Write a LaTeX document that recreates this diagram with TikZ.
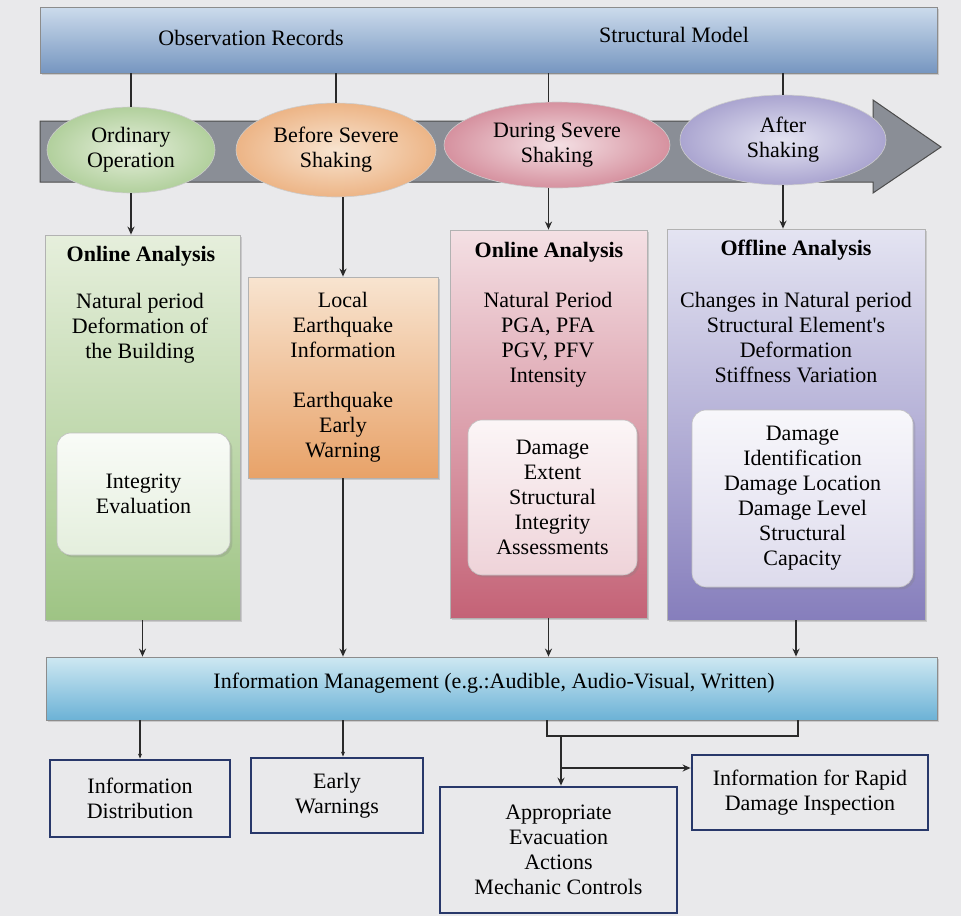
\documentclass[tikz,border=0pt]{standalone}
\usepackage{fontspec}
\setmainfont{Liberation Serif}
\newfontfamily\diagfont{Liberation Serif}
\usetikzlibrary{arrows.meta,shadows,shapes.geometric}

\definecolor{colback}{RGB}{233,233,235}
\definecolor{colbar1}{RGB}{204,219,236}
\definecolor{colbar2}{RGB}{118,150,192}
\definecolor{colinfo1}{RGB}{206,232,242}
\definecolor{colinfo2}{RGB}{108,178,214}
\definecolor{colarrow}{RGB}{138,142,150}
\definecolor{colgreen1}{RGB}{230,239,220}
\definecolor{colgreen2}{RGB}{158,196,132}
\definecolor{colorange1}{RGB}{248,228,208}
\definecolor{colorange2}{RGB}{232,162,104}
\definecolor{colred1}{RGB}{244,224,228}
\definecolor{colred2}{RGB}{196,98,118}
\definecolor{colpurple1}{RGB}{228,228,242}
\definecolor{colpurple2}{RGB}{134,126,188}
\definecolor{colnavy}{RGB}{40,56,106}
\definecolor{colline}{RGB}{42,42,42}

\begin{document}
\begin{tikzpicture}[yscale=-1
,font=\diagfont\fontsize{22}{25}\selectfont
,bar/.style={draw=black!45,line width=0.8pt,minimum height=66pt,drop shadow={opacity=0.3}}
,phase/.style={ellipse,draw=black!20,line width=0.6pt,align=center,inner sep=0pt}
,stage/.style 2 args={draw=black!30,line width=0.8pt,top color=#1,bottom color=#2,align=center,drop shadow={opacity=0.3}}
,result/.style={draw=black!25,line width=0.6pt,rounded corners=14pt,top color=#1!6!white,bottom color=#1!28!white,align=center,drop shadow={opacity=0.25}}
,target/.style={draw=colnavy,line width=2.8pt,fill=colback,align=center}
,link/.style={draw=colline,line width=1.4pt}
,linkarrow/.style={link,-{Stealth[length=8pt,width=7pt]}}
,linktick/.style={link,-{Stealth[length=5pt,width=4pt]}}
]
\fill[colback] (0pt,0pt) rectangle (961pt,916pt);
\useasboundingbox (0pt,0pt) rectangle (961pt,916pt);
% records bar and time line
\node (obs) at (488.5pt,40pt)[bar,top color=colbar1,bottom color=colbar2,minimum width=897pt]{};
\node (obsrec) at (251pt,38pt){Observation Records};
\node (obsmod) at (674pt,35pt){Structural Model};
\draw[draw=black!70,fill=colarrow,line width=1pt] (40pt,121pt) -- (873pt,121pt) -- (873pt,100pt) -- (941pt,147pt) -- (873pt,193pt) -- (873pt,182pt) -- (40pt,182pt) -- cycle;
\node (ord) at (131pt,150pt)[phase,minimum width=168pt,minimum height=86pt,inner color=colgreen1,outer color=colgreen2!80]{Ordinary\\Operation};
\node (bef) at (336pt,150pt)[phase,minimum width=200pt,minimum height=94pt,inner color=colorange1,outer color=colorange2!80]{Before Severe\\Shaking};
\node (dur) at (557pt,145pt)[phase,minimum width=226pt,minimum height=86pt,inner color=colred1,outer color=colred2!70]{During Severe\\Shaking};
\node (aft) at (783pt,140pt)[phase,minimum width=206pt,minimum height=90pt,inner color=colpurple1,outer color=colpurple2!70]{After\\Shaking};
% analysis columns
\node (green) at (142.5pt,427.5pt)[stage={colgreen1}{colgreen2},minimum width=195pt,minimum height=385pt]{};
\node (greentitle) at (141pt,256pt){\textbf{Online Analysis}};
\node (greenbody) at (140pt,328pt)[align=center]{Natural period\\Deformation of\\the Building};
\node (greeninner) at (143.5pt,494pt)[result=colgreen2,minimum width=173pt,minimum height=122pt]{Integrity\\Evaluation};
\node (orange) at (343pt,377.5pt)[stage={colorange1}{colorange2},minimum width=190pt,minimum height=201pt]{Local\\Earthquake\\Information\\[25pt]Earthquake\\Early\\Warning};
\node (red) at (548.5pt,424pt)[stage={colred1}{colred2},minimum width=197pt,minimum height=388pt]{};
\node (redtitle) at (549pt,252pt){\textbf{Online Analysis}};
\node (redbody) at (548pt,339.5pt)[align=center]{Natural Period\\PGA, PFA\\PGV, PFV\\Intensity};
\node (redinner) at (552.5pt,497.5pt)[result=colred2,minimum width=169pt,minimum height=155pt]{Damage\\Extent\\Structural\\Integrity\\Assessments};
\node (purple) at (796pt,424.5pt)[stage={colpurple1}{colpurple2},minimum width=258pt,minimum height=391pt]{};
\node (purpletitle) at (796pt,250pt){\textbf{Offline Analysis}};
\node (purplebody) at (796pt,338pt)[align=center]{Changes in Natural period\\Structural Element's\\Deformation\\Stiffness Variation};
\node (purpleinner) at (802.5pt,498.5pt)[result=colpurple2,minimum width=221pt,minimum height=177pt]{Damage\\Identification\\Damage Location\\Damage Level\\Structural\\Capacity};
% information management and outputs
\node (info) at (491.5pt,688.5pt)[bar,top color=colinfo1,bottom color=colinfo2,minimum width=891pt,minimum height=63pt]{};
\node (infotext) at (494pt,683pt){Information Management (e.g.:Audible, Audio-Visual, Written)};
\node (dist) at (140pt,798.5pt)[target,minimum width=180pt,minimum height=77pt]{Information\\Distribution};
\node (early) at (337pt,795.5pt)[target,minimum width=172pt,minimum height=75pt]{Early\\Warnings};
\node (appr) at (558.5pt,850pt)[target,minimum width=237pt,minimum height=126pt]{Appropriate\\Evacuation\\Actions\\Mechanic Controls};
\node (rapid) at (810pt,792.5pt)[target,minimum width=236pt,minimum height=75pt]{Information for Rapid\\Damage Inspection};
\coordinate (brL) at (547pt,736pt);
\coordinate (brR) at (798pt,736pt);
\coordinate (brJ) at (561pt,736pt);
\coordinate (brB) at (561pt,768pt);
% connectors
\draw[link] (ord.north |- obs.south) -- (ord.north);
\draw[link] (bef.north |- obs.south) -- (bef.north);
\draw[link] (red.north |- obs.south) -- (red.north |- dur.north);
\draw[link] (aft.north |- obs.south) -- (aft.north);
\draw[linkarrow] (ord.south) -- (ord.south |- green.north);
\draw[linkarrow] (orange.north |- bef.south) -- (orange.north);
\draw[linkarrow] (red.north |- dur.south) -- (red.north);
\draw[linkarrow] (aft.south) -- (aft.south |- purple.north);
\draw[linkarrow] (green.south) -- (green.south |- info.north);
\draw[linkarrow] (orange.south) -- (orange.south |- info.north);
\draw[linkarrow] (red.south) -- (red.south |- info.north);
\draw[linkarrow] (purple.south) -- (purple.south |- info.north);
\draw[linktick] (dist.north |- info.south) -- (dist.north);
\draw[linktick] (orange.south |- info.south) -- (orange.south |- early.north);
\draw[link] (info.south -| brL) -- (brL) -- (brR) -- (info.south -| brR);
\draw[linkarrow] (brJ) -- (brJ |- appr.north);
\draw[linkarrow] (brB) -- (brB -| rapid.west);
\end{tikzpicture}
\end{document}
